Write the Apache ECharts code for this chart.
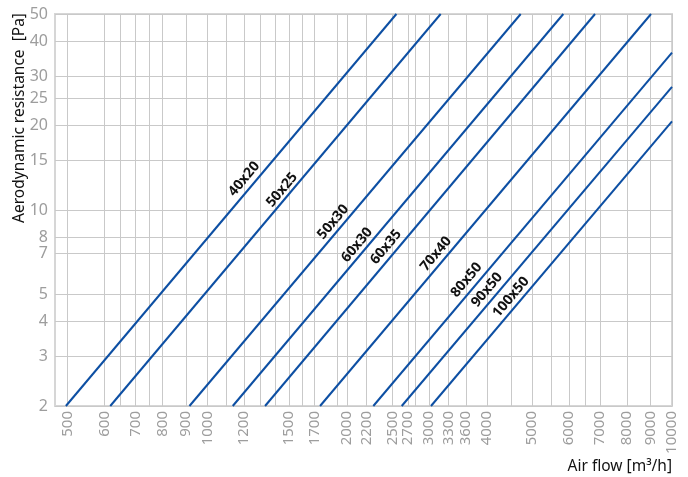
<!DOCTYPE html>
<html><head><meta charset="utf-8">
<script src="https://cdn.jsdelivr.net/npm/echarts@6/dist/echarts.min.js"></script>
<style>html,body{margin:0;padding:0;background:#fff}#c{width:688px;height:477px}</style>
</head><body><div id="c"></div>
<script>
// Duct sizes (one curve each)
const ductSizes = ['40x20','50x25','50x30','60x30','60x35','70x40','80x50','90x50','100x50'];
// Lower end of each curve: air flow [m3/h] at pressure [Pa]
const flowStart     = [496, 618, 915, 1134, 1331, 1748, 2276, 2620, 3029];
const pressureStart = [2, 2, 2, 2, 2, 2, 2, 2, 2];
// Upper end of each curve (top of chart or right edge)
const flowEnd       = [2552, 3178, 4725, 5836, 6829, 9013, 10000, 10000, 10000];
const pressureEnd   = [50, 50, 50, 50, 50, 50, 36.4, 27.5, 20.7];
// Where each curve's size label sits (flow, pressure)
const labelFlow     = [1200, 1448, 1865, 2100, 2424, 3106, 3613, 3999, 4503];
const labelPressure = [12.9, 11.8, 9.06, 7.50, 7.38, 6.97, 5.63, 5.19, 4.89];
// Axis ticks
const xTickLabels = [500,600,700,800,900,1000,1200,1500,1700,2000,2200,2500,2700,3000,3300,3600,4000,5000,6000,7000,8000,9000,10000];
const xExtraGrid  = [650,750,1100,1300,1400,1600,1900,2800,4500,5500,6500];
const yTickLabels = [2,3,4,5,7,8,10,15,20,25,30,40,50];
const xRange = [470, 10000];
const yRange = [2, 50];

const FONT = 'Noto Sans';
const LINE = '#0d4fa3';
const GRID = '#c9c9c9';

const chart = echarts.init(document.getElementById('c'), null, {renderer:'canvas'});
const series = ductSizes.map((name, i) => ({
  type: 'line',
  name: name,
  data: [[flowStart[i], pressureStart[i]], [flowEnd[i], pressureEnd[i]]],
  symbol: 'none',
  lineStyle: {color: LINE, width: 2},
  silent: true,
  z: 3,
  markPoint: {
    symbol: 'circle', symbolSize: 0, silent: true,
    data: [{coord: [labelFlow[i], labelPressure[i]]}],
    label: {show: true, position: 'inside', formatter: name, rotate: 50,
      color: '#111', fontSize: 14, fontWeight: 'bold', fontFamily: FONT}
  }
}));

chart.setOption({
  animation: false,
  backgroundColor: '#fff',
  grid: {left: 55, right: 16, top: 14, bottom: 71, show: true, borderColor: '#d6d6d6', borderWidth: 2},
  xAxis: {
    type: 'log', logBase: 10, min: xRange[0], max: xRange[1],
    axisLine: {show: false},
    axisTick: {show: false, customValues: xTickLabels.concat(xExtraGrid).sort((a,b)=>a-b)},
    axisLabel: {customValues: xTickLabels, rotate: 90, margin: 5, color: '#9d9d9d', fontSize: 15, fontFamily: FONT,
      formatter: v => String(Math.round(v))},
    splitLine: {show: true, lineStyle: {color: GRID, width: 1}}
  },
  yAxis: {
    type: 'log', logBase: 10, min: yRange[0], max: yRange[1],
    axisLine: {show: false},
    axisTick: {show: false, customValues: yTickLabels},
    axisLabel: {customValues: yTickLabels, margin: 7, color: '#9d9d9d', fontSize: 16, fontFamily: FONT,
      formatter: v => String(Math.round(v))},
    splitLine: {show: true, lineStyle: {color: GRID, width: 1}}
  },
  graphic: [
    {type: 'text', x: 20, y: 118, rotation: Math.PI/2,
      style: {text: 'Aerodynamic resistance  [Pa]', fill: '#111', font: '15.5px "Noto Sans"', textAlign: 'center', textVerticalAlign: 'middle'}},
    {type: 'text', x: 672, y: 467,
      style: {text: 'Air flow [m³/h]', fill: '#111', font: '15.5px "Noto Sans"', textAlign: 'right', textVerticalAlign: 'middle'}}
  ],
  series: series
});
</script></body></html>
